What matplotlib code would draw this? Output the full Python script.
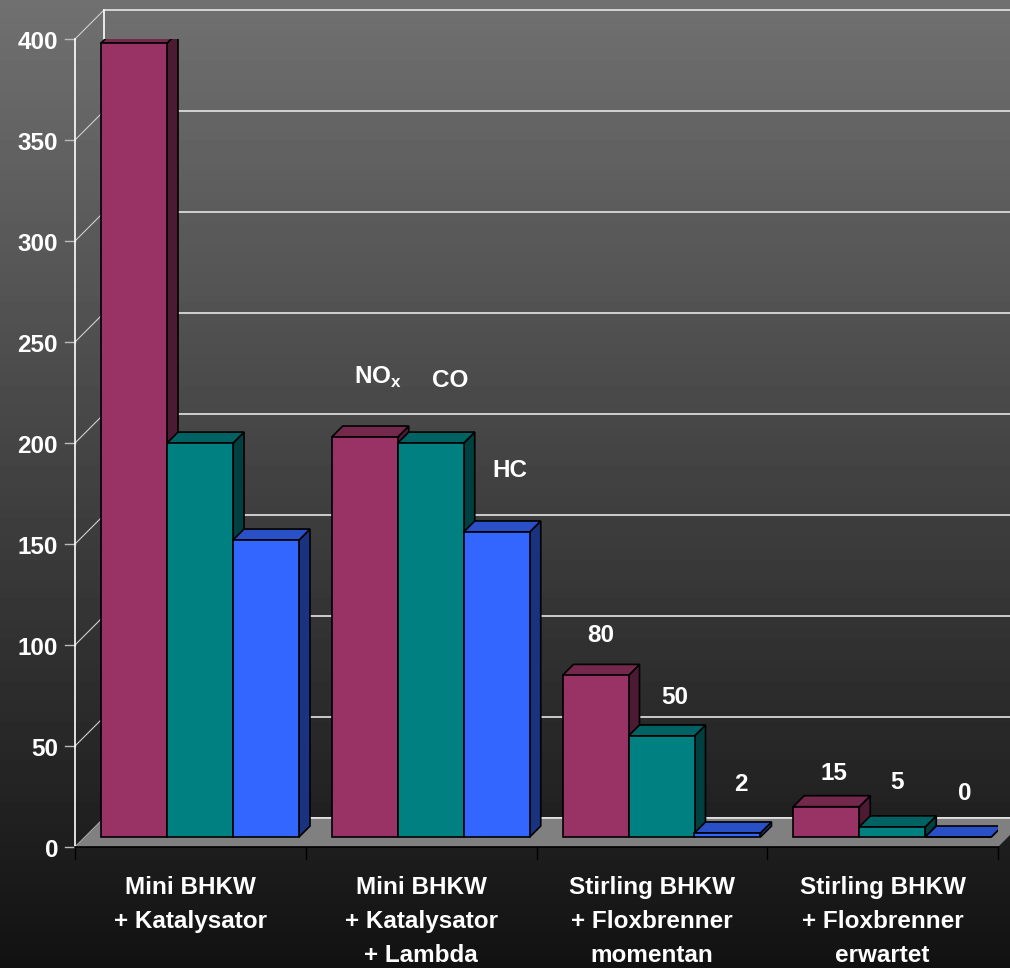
import numpy as np
import matplotlib
matplotlib.use('Agg')
import matplotlib.pyplot as plt
from matplotlib.patches import Polygon, Rectangle

plt.rcParams['font.family'] = ['Liberation Sans', 'DejaVu Sans']
plt.rcParams['font.weight'] = 'bold'
plt.rcParams['mathtext.fontset'] = 'custom'
plt.rcParams['mathtext.rm'] = 'Liberation Sans:bold'
plt.rcParams['mathtext.bf'] = 'Liberation Sans:bold'

# Daten
categories = ['Mini BHKW\n+ Katalysator',
              'Mini BHKW\n+ Katalysator\n+ Lambda',
              'Stirling BHKW\n+ Floxbrenner\nmomentan',
              'Stirling BHKW\n+ Floxbrenner\nerwartet']
series_names = [r'NO$_\mathregular{x}$', 'CO', 'HC']
nox = [393, 198, 80, 15]
co = [195, 195, 50, 5]
hc = [147, 151, 2, 0]
yticks = [0, 50, 100, 150, 200, 250, 300, 350, 400]

# Farben (Front, Deckel, Seite)
colors = [('#993366', '#74284c', '#4d1a33'),
          ('#008080', '#006262', '#004040'),
          ('#3366ff', '#2a50c8', '#1a3380')]

W, H = 1010, 968
fig = plt.figure(figsize=(W / 100, H / 100), dpi=100)

# Hintergrund-Verlauf
bg = fig.add_axes([0, 0, 1, 1], zorder=0)
bg.imshow(np.linspace(0.44, 0.07, 256)[:, None], cmap='gray', vmin=0, vmax=1,
          aspect='auto', extent=[0, 1, 0, 1])
bg.axis('off')

ax = fig.add_axes([75 / W, 121 / H, 923 / W, 808 / H], zorder=1)
ax.set_xlim(0, 4)
ax.set_ylim(0, 400)
ax.axis('off')

PX = 923 / 4.0    # Pixel pro Kategorie
PY = 808 / 400.0  # Pixel pro Einheit


def fx(p):
    return p / PX


def fy(p):
    return p / PY


DX, DY = fx(29), fy(29)

# Rückwand, Gitterlinien, linke Wand
for v in yticks:
    ax.plot([DX, 4 + DX + 1], [v + DY, v + DY], color='#e6e6e6', lw=1.2,
            clip_on=False, zorder=1)
    ax.plot([0, DX], [v, v + DY], color='#d0d0d0', lw=0.8, clip_on=False, zorder=1)
    ax.plot([-fx(10), 0], [v, v], color='#bbbbbb', lw=1.0, clip_on=False, zorder=1)
    ax.text(-fx(17), v - fy(10), str(v), ha='right', va='baseline',
            color='white', fontsize=17.5, fontweight='bold')
ax.plot([0, 0], [0, 400], color='white', lw=1.2, clip_on=False, zorder=1)
ax.plot([DX, DX], [DY, 400 + DY], color='white', lw=1.2, clip_on=False, zorder=1)

# Boden
ax.add_patch(Polygon([(0, 0), (4, 0), (4 + DX, DY), (DX, DY)], closed=True,
                     fc='#808080', ec='none', clip_on=False, zorder=2))
ax.plot([DX, 4 + DX + 1], [DY, DY], color='#e6e6e6', lw=1.2, clip_on=False, zorder=2)
ax.plot([0, 4], [0, 0], color='black', lw=1.2, clip_on=False, zorder=2)
for i in range(5):
    ax.plot([i, i], [0, -fy(12)], color='black', lw=1.0, clip_on=False, zorder=2)

# Balken
gap, bw = fx(16), fx(66)
d0x, d0y = fx(10), fy(10)
ddx, ddy = fx(11), fy(11)
values = [nox, co, hc]
for i in range(len(categories)):
    for j, vals in enumerate(values):
        h = vals[i]
        fc, tc, sc = colors[j]
        x0 = i + gap + j * bw + d0x
        y0 = d0y
        z = 3 + j
        ax.add_patch(Polygon([(x0 + bw, y0), (x0 + bw + ddx, y0 + ddy),
                              (x0 + bw + ddx, y0 + h + ddy), (x0 + bw, y0 + h)],
                             closed=True, fc=sc, ec='black', lw=1.2, zorder=z))
        ax.add_patch(Polygon([(x0, y0 + h), (x0 + bw, y0 + h),
                              (x0 + bw + ddx, y0 + h + ddy), (x0 + ddx, y0 + h + ddy)],
                             closed=True, fc=tc, ec='black', lw=1.2, zorder=z))
        ax.add_patch(Rectangle((x0, y0), bw, h, fc=fc, ec='black', lw=1.2, zorder=z))

# Beschriftungen über den Balken (Versatz in Pixel)
label_offsets = {(1, 0): (8, 60), (1, 1): (14, 63), (1, 2): (8, 61),
                 (2, 0): (0, 40), (2, 1): (8, 39), (2, 2): (8, 48),
                 (3, 0): (2, 33), (3, 1): (-1, 44), (3, 2): (1, 44)}
for (i, j), (ox, oy) in label_offsets.items():
    h = values[j][i]
    xc = i + gap + j * bw + d0x + bw / 2 + ddx / 2
    txt = series_names[j] if i == 1 else str(h)
    ax.annotate(txt, (xc, d0y + h), xytext=(ox * 0.72, oy * 0.72),
                textcoords='offset points', ha='center', va='center',
                color='white', fontsize=17.5, fontweight='bold', zorder=10)

# Kategorien
for i, cat in enumerate(categories):
    for k, line in enumerate(cat.split('\n')):
        ax.text(i + 0.5, -fy(47 + 34 * k), line, ha='center', va='baseline',
                color='white', fontsize=17.5, fontweight='bold')

fig.savefig('out.png', dpi=100)
